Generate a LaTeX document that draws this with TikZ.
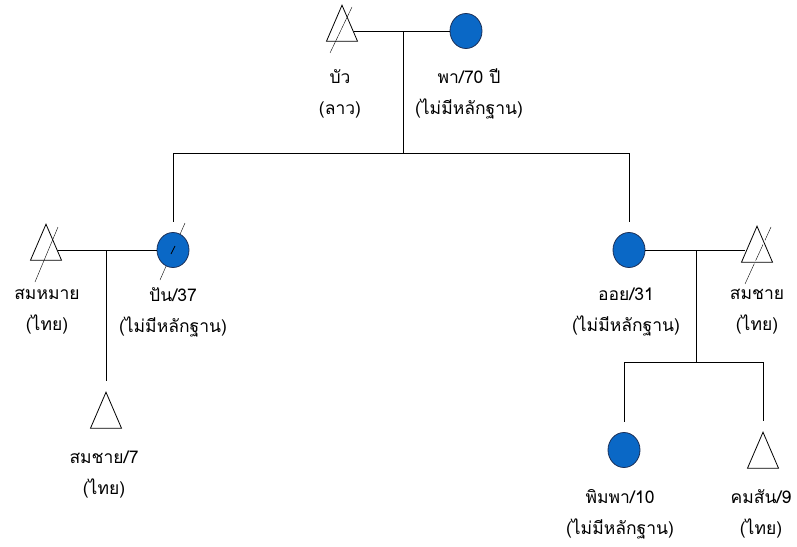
\documentclass[tikz,border=0pt]{standalone}
\usepackage{fontspec}
\newfontfamily\thaifont[Script=Thai]{Loma}
\usetikzlibrary{shapes.geometric, positioning, backgrounds}

\definecolor{femblue}{RGB}{10,104,198}
\definecolor{femedge}{RGB}{28,48,88}

\tikzset{
  male/.style={draw, isosceles triangle, shape border rotate=90, isosceles triangle stretches,
               minimum width=31pt, minimum height=36pt, inner sep=0pt},
  female/.style={ellipse, draw=femedge, fill=femblue, minimum width=32pt, minimum height=35pt, inner sep=0pt},
  lbl/.style={align=center, inner sep=0pt, font=\thaifont\fontsize{17.5}{31}\selectfont},
  halo/.style={preaction={draw=white, line width=3pt}},
  gap/.style={shorten >=10pt},
}

\begin{document}
\begin{tikzpicture}[x=1pt, y=-1pt, line width=0.8pt]
    \useasboundingbox (0,0) rectangle (797,546);

    % first generation
    \node[male]   (bua) at (342,31) {};
    \node[female] (pha) at (466,31) {};
    \node[lbl] (bua_lbl) at (340,94) {บัว\\(ลาว)};
    \node[lbl] (pha_lbl) at (469,94) {พา/70 ปี\\(ไม่มีหลักฐาน)};

    % second generation
    \node[male]       (sommai)  at (46,250)  {};
    \node[female]     (pan)     at (173,250) {};
    \node[female]     (oi)      at (629,250) {};
    \node[male, halo] (somchai) at (757,252) {};
    \node[lbl] (sommai_lbl)  at (47,312)  {สมหมาย\\(ไทย)};
    \node[lbl] (pan_lbl)     at (173,312) {ปัน/37\\(ไม่มีหลักฐาน)};
    \node[lbl] (oi_lbl)      at (626,312) {ออย/31\\(ไม่มีหลักฐาน)};
    \node[lbl] (somchai_lbl) at (757,312) {สมชาย\\(ไทย)};

    % third generation
    \node[male]   (somchai7) at (106,418) {};
    \node[female] (pimpa)    at (624,450) {};
    \node[male]   (khomsan)  at (763,458) {};
    \node[lbl] (somchai7_lbl) at (104,475) {สมชาย/7\\(ไทย)};
    \node[lbl] (pimpa_lbl)    at (620,514) {พิมพา/10\\(ไม่มีหลักฐาน)};
    \node[lbl] (khomsan_lbl)  at (761,514) {คมสัน/9\\(ไทย)};

    % deceased marks
    \begin{scope}[on background layer]
        \draw ([shift={(10,-24)}]bua.center)     -- ([shift={(-12,22)}]bua.center);
        \draw ([shift={(12,-23)}]sommai.center)  -- ([shift={(-11,32)}]sommai.center);
        \draw ([shift={(12,-27)}]pan.center)     -- ([shift={(-13,30)}]pan.center);
        \draw ([shift={(14,-25)}]somchai.center) -- ([shift={(-12,32)}]somchai.center);
    \end{scope}
    \draw ([shift={(2,-4)}]pan.center) -- ([shift={(-2,4)}]pan.center);

    % couples and children
    \coordinate (m1) at (403,31);
    \coordinate (s1) at (403,153);
    \coordinate (m2) at (somchai7 |- pan);
    \coordinate (m3) at (696,250);
    \coordinate (s3) at (696,362);

    \draw (bua) -- (pha);
    \draw (m1) -- (s1);
    \draw (pan |- s1) -- (oi |- s1);
    \draw[gap] (pan |- s1) -- (pan);
    \draw[gap] (oi |- s1) -- (oi);

    \draw (sommai) -- (pan);
    \draw[gap] (m2) -- (somchai7);

    \draw (oi) -- (oi -| somchai.west);
    \draw (m3) -- (s3);
    \draw (pimpa |- s3) -- (khomsan |- s3);
    \draw[gap] (pimpa |- s3) -- (pimpa);
    \draw[gap] (khomsan |- s3) -- (khomsan);
\end{tikzpicture}
\end{document}
